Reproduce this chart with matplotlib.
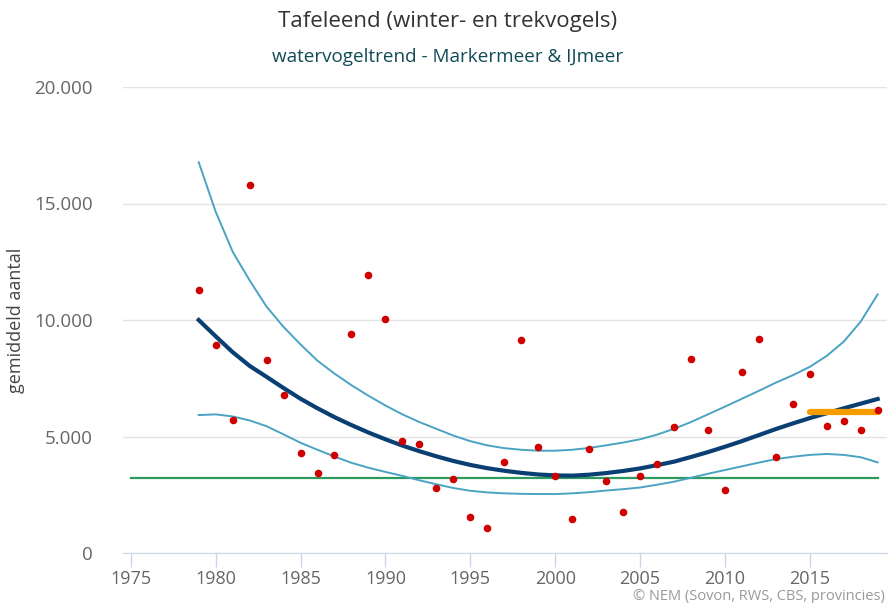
import matplotlib
matplotlib.use("Agg")
import matplotlib.pyplot as plt
from matplotlib.ticker import FuncFormatter

# jaarlijkse gemiddelden (rode punten)
years = list(range(1979, 2020))
counts = [11290, 8930, 5710, 15790, 8280, 6770, 4290, 3430, 4190, 9390,
          11950, 10040, 4810, 4680, 2780, 3160, 1530, 1070, 3890, 9130,
          4550, 3320, 1470, 4480, 3100, 1750, 3320, 3820, 5390, 8340,
          5270, 2720, 7770, 9200, 4110, 6380, 7700, 5470, 5670, 5270, 6140]

trend = [10000, 9300, 8620, 8030, 7560, 7080, 6620, 6210, 5830, 5490,
         5170, 4880, 4610, 4370, 4150, 3950, 3780, 3640, 3530, 3440,
         3370, 3330, 3320, 3360, 3430, 3520, 3630, 3770, 3920, 4120,
         4330, 4560, 4800, 5060, 5320, 5560, 5790, 6000, 6210, 6410, 6610]

upper = [16770, 14650, 12930, 11700, 10570, 9700, 8950, 8250, 7700, 7200,
         6750, 6330, 5950, 5620, 5330, 5040, 4800, 4620, 4500, 4430,
         4390, 4390, 4430, 4510, 4620, 4740, 4880, 5080, 5330, 5620,
         5950, 6280, 6620, 6960, 7310, 7630, 7990, 8460, 9070, 9930, 11100]

lower = [5920, 5950, 5860, 5690, 5440, 5090, 4730, 4430, 4140, 3870,
         3660, 3480, 3310, 3120, 2950, 2790, 2670, 2600, 2560, 2540,
         2530, 2530, 2560, 2610, 2680, 2740, 2810, 2930, 3060, 3230,
         3400, 3560, 3720, 3880, 4030, 4130, 4210, 4250, 4210, 4110, 3890]

ref_years = [1975, 2019]
ref_level = [3230, 3230]

recent_years = [2015, 2019]
recent_level = [6050, 6050]

xticks = [1975, 1980, 1985, 1990, 1995, 2000, 2005, 2010, 2015]
yticks = [0, 5000, 10000, 15000, 20000]

plt.rcParams['font.family'] = ['Open Sans', 'DejaVu Sans']

fig = plt.figure(figsize=(8.96, 6.03), dpi=100)
ax = fig.add_axes([123/896, 50/603, 764/896, 466/603])

ax.plot(ref_years, ref_level, color='#2e9a5e', lw=1.6, zorder=2)
ax.plot(years, upper, color='#4aa3c2', lw=1.4, zorder=3)
ax.plot(years, lower, color='#4aa3c2', lw=1.4, zorder=3)
ax.plot(years, trend, color='#0a3f73', lw=3, zorder=4)
ax.plot(recent_years, recent_level, color='#f59c00', lw=4.5, zorder=5,
        solid_capstyle='round')
ax.scatter(years, counts, s=30, color='#d00000', lw=0, zorder=6)

ax.set_xlim(1974.54, 2019.55)
ax.set_ylim(0, 20000)
ax.set_xticks(xticks)
ax.set_yticks(yticks)
ax.yaxis.set_major_formatter(FuncFormatter(lambda v, p: f"{int(v):,}".replace(",", ".")))

ax.grid(axis='y', color='#e3e3e3', lw=1)
ax.set_axisbelow(True)
for s in ['top', 'right', 'left']:
    ax.spines[s].set_visible(False)
ax.spines['bottom'].set_color('#ccd6eb')
ax.tick_params(axis='x', colors='#ccd6eb', length=10, width=1, labelcolor='#666666',
               labelsize=13, pad=2)
ax.tick_params(axis='y', length=0, labelcolor='#666666', labelsize=13.5, pad=22)

ax.set_ylabel('gemiddeld aantal', color='#444444', fontsize=13, labelpad=6)

fig.text(0.5, 1 - 22/603, 'Tafeleend (winter- en trekvogels)', ha='center', va='center',
         fontsize=16, color='#333333')
fig.text(0.5, 1 - 57/603, 'watervogeltrend - Markermeer & IJmeer', ha='center', va='center',
         fontsize=13.6, color='#124b57')
fig.text(885/896, 1 - 596/603, '\u00a9 NEM (Sovon, RWS, CBS, provincies)', ha='right',
         va='center', fontsize=10.5, color='#999999')

fig.savefig('out.png', dpi=100)
